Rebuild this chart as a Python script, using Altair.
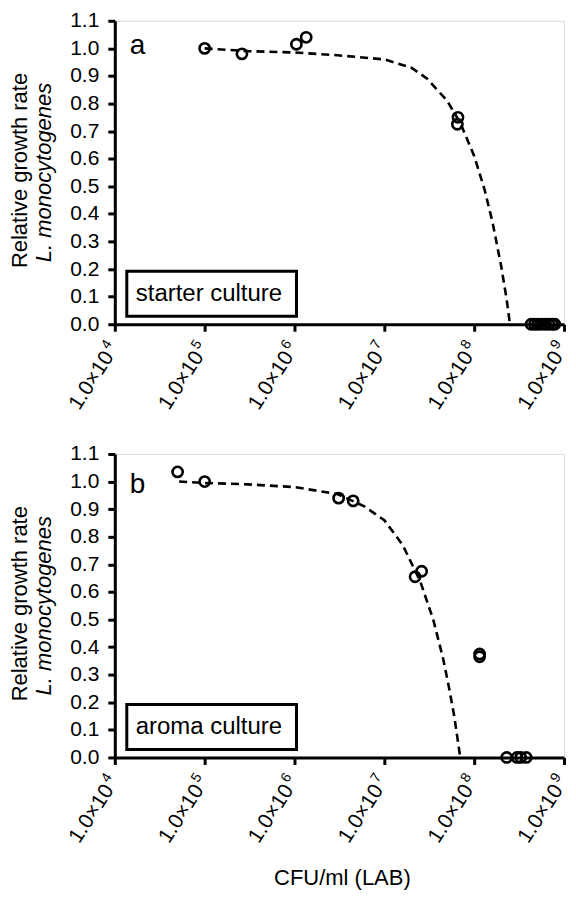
import altair as alt
import pandas as pd

# ---------------- data ----------------
tick_values = [1e4, 1e5, 1e6, 1e7, 1e8, 1e9]
tick_mantissa = ["1.0×10"] * 6
tick_exponents = ["4", "5", "6", "7", "8", "9"]

# panel a: starter culture
a_obs_cfu = [1.0e5, 2.6e5, 1.05e6, 1.35e6, 6.6e7, 6.5e7,
             4.3e8, 4.7e8, 5.1e8, 5.6e8, 6.2e8, 6.8e8, 7.4e8, 7.9e8]
a_obs_rate = [1.00, 0.98, 1.015, 1.04, 0.75, 0.725,
              0, 0, 0, 0, 0, 0, 0, 0]
a_fit_cfu = [1e5, 3e5, 1e6, 3e6, 1e7, 2e7, 3e7, 5e7, 7e7, 1e8, 1.3e8, 1.6e8, 2e8, 2.3e8, 2.5e8]
a_fit_rate = [1.0, 0.99, 0.985, 0.975, 0.96, 0.93, 0.89, 0.81, 0.73, 0.61, 0.49, 0.37, 0.21, 0.09, 0.0]

# panel b: aroma culture
b_obs_cfu = [5.0e4, 1.0e5, 3.1e6, 4.5e6, 2.2e7, 2.6e7, 1.15e8, 1.15e8,
             2.3e8, 3.0e8, 3.3e8, 3.8e8]
b_obs_rate = [1.035, 1.0, 0.94, 0.93, 0.655, 0.675, 0.365, 0.375,
              0, 0, 0, 0]
b_fit_cfu = [5.2e4, 1e5, 3e5, 1e6, 3e6, 6e6, 1e7, 1.6e7, 2.5e7, 3.5e7, 4.5e7, 5.2e7, 6e7, 7e7]
b_fit_rate = [1.0, 0.995, 0.99, 0.98, 0.955, 0.91, 0.86, 0.77, 0.64, 0.50, 0.36, 0.26, 0.15, 0.0]

y_ticks = [round(i * 0.1, 1) for i in range(12)]

FONT = "Liberation Sans"
W, H = 450, 304
ANG = 303  # label rotation (clockwise degrees), i.e. -57


def panel(obs_x, obs_y, fit_x, fit_y, letter, letter_y, box_label, show_xtitle):
    obs = pd.DataFrame({"cfu": obs_x, "rate": obs_y})
    fit = pd.DataFrame({"cfu": fit_x, "rate": fit_y})
    ticks = pd.DataFrame({"cfu": tick_values, "m": tick_mantissa, "e": tick_exponents})

    xscale = alt.Scale(type="log", domain=[1e4, 1e9], nice=False)
    xaxis = alt.Axis(values=tick_values, labels=False,
                     domainColor="black", domainWidth=3, tickColor="black",
                     tickWidth=3, tickSize=7, grid=False)
    x = alt.X("cfu:Q", scale=xscale, axis=xaxis, title=None)
    y = alt.Y("rate:Q", scale=alt.Scale(domain=[0, 1.1], nice=False, zero=False),
              axis=alt.Axis(values=y_ticks, format=".1f", labelFontSize=21,
                            labelFont=FONT, labelColor="black", labelPadding=9,
                            domainColor="black", domainWidth=3, tickColor="black",
                            tickWidth=3, tickSize=7, grid=False),
              title=None)

    line = alt.Chart(fit).mark_line(color="black", strokeWidth=2.6,
                                    strokeDash=[8, 5]).encode(x=x, y=y)
    pts = alt.Chart(obs).mark_point(shape="circle", filled=False, size=105, opacity=1,
                                    strokeWidth=2.6, color="black").encode(x=x, y=y)

    xl = alt.Chart(ticks).mark_text(angle=ANG, align="right", baseline="middle",
                                    fontSize=21, font=FONT, color="black", dx=-10).encode(
        x=alt.X("cfu:Q", scale=xscale), y=alt.value(H + 21), text="m:N")
    xe = alt.Chart(ticks).mark_text(angle=ANG, align="right", baseline="middle",
                                    fontSize=14, font=FONT, color="black", dy=-7).encode(
        x=alt.X("cfu:Q", scale=xscale), y=alt.value(H + 21), text="e:N")

    lab = pd.DataFrame({"t": [box_label]})
    box = alt.Chart(lab).mark_rect(fill="white", stroke="black", strokeWidth=3).encode(
        x=alt.value(12), x2=alt.value(182), y=alt.value(251), y2=alt.value(296))
    box_txt = alt.Chart(lab).mark_text(align="left", baseline="middle", fontSize=24,
                                       font=FONT, color="black").encode(
        x=alt.value(21), y=alt.value(274), text="t:N")

    let = alt.Chart(pd.DataFrame({"t": [letter]})).mark_text(
        align="left", baseline="alphabetic", fontSize=28, font=FONT, color="black").encode(
        x=alt.value(15), y=alt.value(letter_y), text="t:N")

    t1 = alt.Chart(pd.DataFrame({"t": ["Relative growth rate"]})).mark_text(
        angle=270, align="center", baseline="middle", fontSize=22, font=FONT,
        color="black").encode(x=alt.value(-95), y=alt.value(150), text="t:N")
    t2 = alt.Chart(pd.DataFrame({"t": ["L. monocytogenes"]})).mark_text(
        angle=270, align="center", baseline="middle", fontSize=22, font=FONT,
        fontStyle="italic", color="black").encode(x=alt.value(-71), y=alt.value(152), text="t:N")

    layers = [line, pts, box, box_txt, let, t1, t2, xl, xe]
    if show_xtitle:
        xt = alt.Chart(pd.DataFrame({"t": ["CFU/ml (LAB)"]})).mark_text(
            align="center", baseline="middle", fontSize=22, font=FONT,
            color="black").encode(x=alt.value(W / 2 + 3), y=alt.value(H + 121), text="t:N")
        layers.append(xt)
    return alt.layer(*layers).properties(width=W, height=H)


pa = panel(a_obs_cfu, a_obs_rate, a_fit_cfu, a_fit_rate, "a", 33, "starter culture", False)
pb = panel(b_obs_cfu, b_obs_rate, b_fit_cfu, b_fit_rate, "b", 39, "aroma culture", True)

chart = alt.vconcat(pa, pb, spacing=130, bounds="flush").configure_view(stroke=None).configure(
    padding={"left": 0, "top": 0, "right": 0, "bottom": 0})

chart.save("out.html", embed_options={"renderer": "svg", "actions": False})
